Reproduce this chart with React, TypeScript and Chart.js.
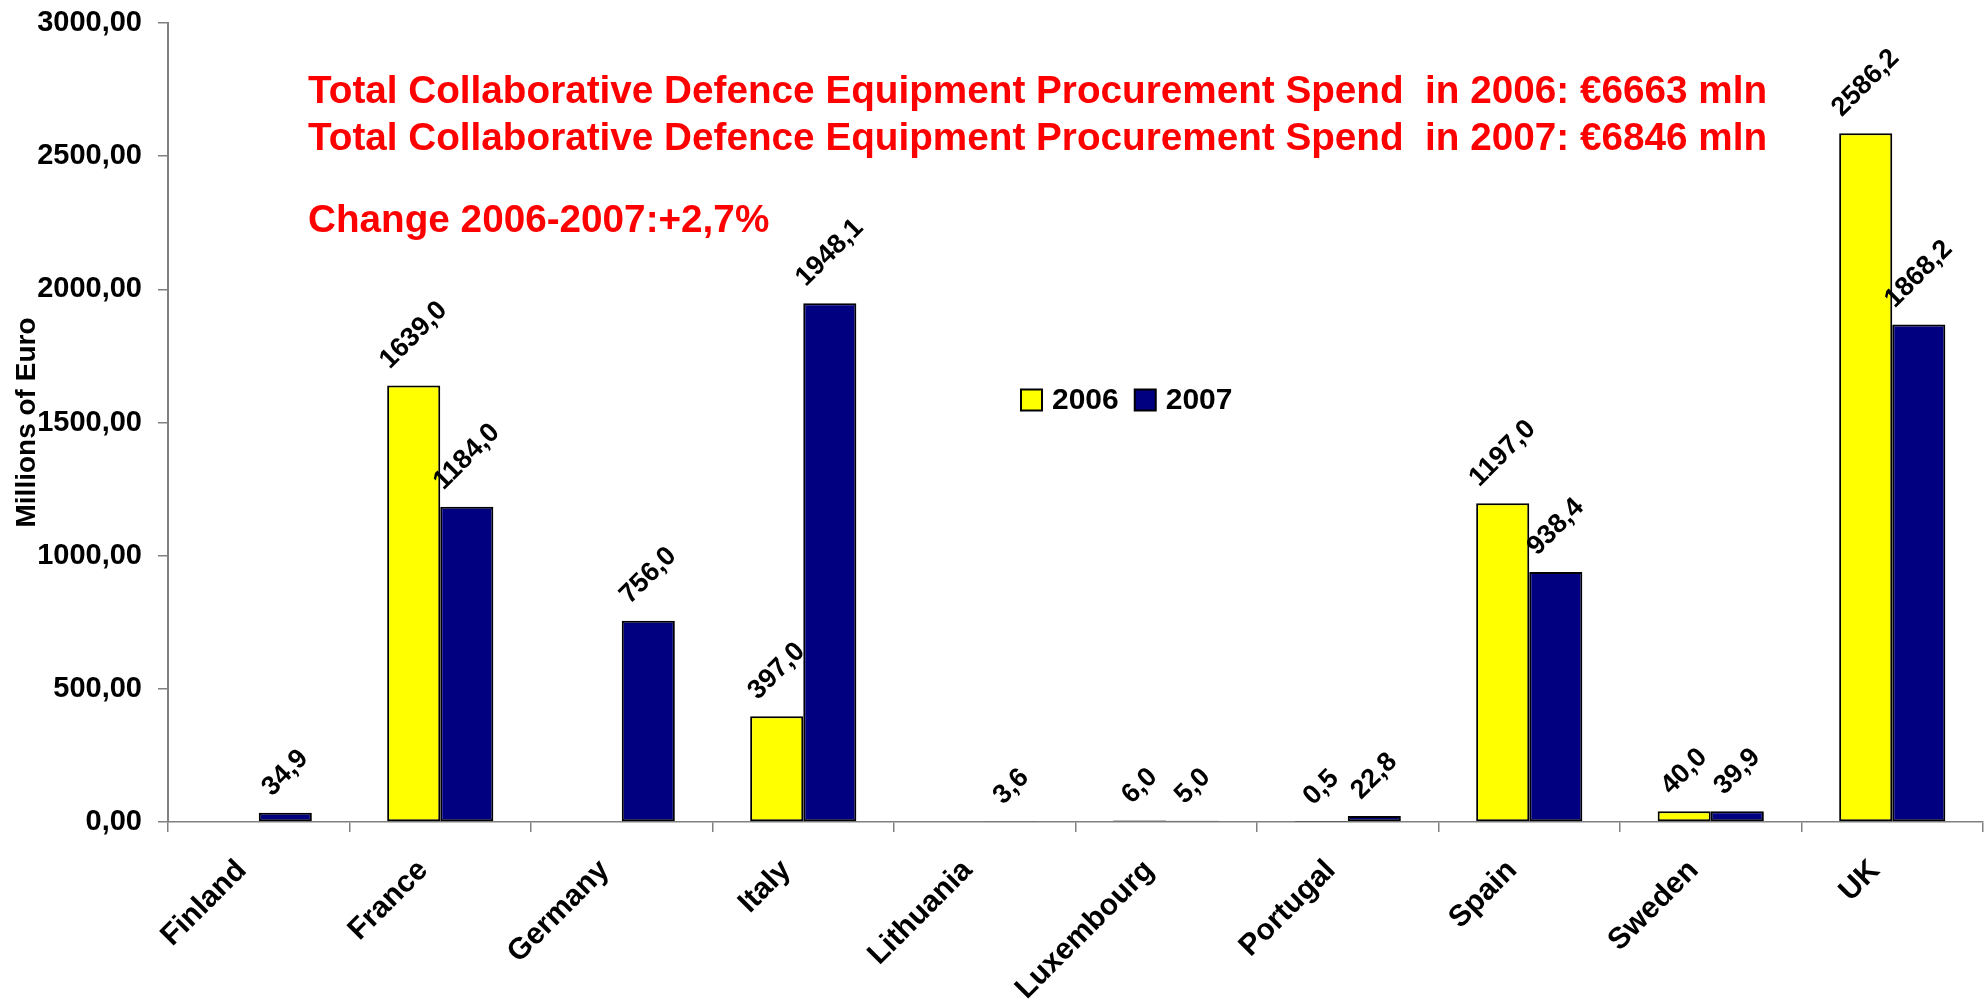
import React, { useEffect, useRef } from 'react';
import { Chart, registerables } from 'chart.js';

Chart.register(...registerables);

const categories = ['Finland', 'France', 'Germany', 'Italy', 'Lithuania', 'Luxembourg', 'Portugal', 'Spain', 'Sweden', 'UK'];
const values2006: (number | null)[] = [null, 1639.0, null, 397.0, null, 6.0, 0.5, 1197.0, 40.0, 2586.2];
const values2007: (number | null)[] = [34.9, 1184.0, 756.0, 1948.1, 3.6, 5.0, 22.8, 938.4, 39.9, 1868.2];
const seriesLabels = ['2006', '2007'];
const seriesColors = ['#FFFF00', '#000080'];
const yTickValues = [0, 500, 1000, 1500, 2000, 2500, 3000];
const yAxisTitle = 'Millions of Euro';
const noteLines = [
  'Total Collaborative Defence Equipment Procurement Spend  in 2006: €6663 mln',
  'Total Collaborative Defence Equipment Procurement Spend  in 2007: €6846 mln',
  'Change 2006-2007:+2,7%',
];

const FONT = '"Liberation Sans", Arial, Helvetica, sans-serif';

const fmtComma = (v: number, d: number) => v.toFixed(d).replace('.', ',');

const barLabelPlugin = {
  id: 'barLabels',
  afterDatasetsDraw(chart: any) {
    const ctx = chart.ctx;
    ctx.save();
    ctx.font = `bold 27px ${FONT}`;
    ctx.fillStyle = '#000';
    chart.data.datasets.forEach((ds: any, i: number) => {
      const meta = chart.getDatasetMeta(i);
      meta.data.forEach((el: any, j: number) => {
        const v = ds.data[j];
        if (v == null) return;
        const text = fmtComma(v, 1);
        const w = ctx.measureText(text).width;
        const h = 20;
        const half = (w + h) / (2 * Math.SQRT2);
        const cx = el.x;
        const cy = el.y - 14 - half;
        ctx.save();
        ctx.translate(cx, cy);
        ctx.rotate(-Math.PI / 4);
        ctx.textAlign = 'center';
        ctx.textBaseline = 'middle';
        ctx.fillText(text, 0, 0);
        ctx.restore();
      });
    });
    ctx.restore();
  },
};

const overlayPlugin = {
  id: 'overlay',
  afterDraw(chart: any) {
    const ctx = chart.ctx;
    ctx.save();
    ctx.fillStyle = '#FF0000';
    ctx.font = `bold 38.7px ${FONT}`;
    ctx.textAlign = 'left';
    ctx.textBaseline = 'alphabetic';
    const baselines = [103, 150, 232];
    noteLines.forEach((t, i) => ctx.fillText(t, 308, baselines[i]));
    // legend
    ctx.font = `bold 30px ${FONT}`;
    ctx.textBaseline = 'middle';
    let x = 1021;
    const y = 400;
    chart.data.datasets.forEach((ds: any) => {
      ctx.fillStyle = ds.backgroundColor;
      ctx.fillRect(x, y - 10.5, 21, 21);
      ctx.strokeStyle = '#000';
      ctx.lineWidth = 2;
      ctx.strokeRect(x, y - 10.5, 21, 21);
      ctx.fillStyle = '#000';
      ctx.fillText(ds.label, x + 31, y + 1);
      x += 31 + ctx.measureText(ds.label).width + 16;
    });
    ctx.restore();
  },
};

export default function App() {
  const ref = useRef<HTMLCanvasElement | null>(null);
  useEffect(() => {
    if (!ref.current) return;
    const common = {
      borderColor: '#000',
      borderWidth: 2,
      borderSkipped: false,
      categoryPercentage: 0.585,
      barPercentage: 1,
    };
    const chart = new Chart(ref.current, {
      type: 'bar',
      data: {
        labels: categories,
        datasets: [
          { label: seriesLabels[0], data: values2006, backgroundColor: seriesColors[0], ...common },
          { label: seriesLabels[1], data: values2007, backgroundColor: seriesColors[1], ...common },
        ],
      } as any,
      options: {
        responsive: false,
        maintainAspectRatio: false,
        animation: false,
        layout: { padding: { top: 23, right: 5, left: 0, bottom: 0 } },
        plugins: {
          legend: { display: false },
          tooltip: { enabled: false },
        },
        scales: {
          x: {
            grid: { display: true, drawOnChartArea: false, color: '#808080', tickLength: 10, lineWidth: 1.5 },
            border: { color: '#808080', width: 1.5 },
            ticks: {
              color: '#000',
              font: { family: FONT, size: 30, weight: 'bold' },
              minRotation: 45,
              maxRotation: 45,
              padding: 21,
              labelOffset: -17,
              autoSkip: false,
            },
            afterFit: (s: any) => {
              s.height = 181;
              s.paddingLeft = 0;
              s.paddingRight = 0;
            },
          },
          y: {
            min: 0,
            max: 3000,
            grid: { display: true, drawOnChartArea: false, color: '#808080', tickLength: 10, lineWidth: 1.5 },
            border: { color: '#808080', width: 2 },
            afterBuildTicks: (s: any) => {
              s.ticks = yTickValues.map((v) => ({ value: v }));
            },
            ticks: {
              color: '#000',
              font: { family: FONT, size: 29, weight: 'bold' },
              padding: 16,
              callback: (v: any) => fmtComma(Number(v), 2),
            },
            title: {
              display: true,
              text: yAxisTitle,
              color: '#000',
              font: { family: FONT, size: 28, weight: 'bold' },
              padding: { top: 10, bottom: 0 },
            },
            afterFit: (s: any) => {
              s.width = 168;
              s.paddingTop = 0;
              s.paddingBottom = 0;
            },
          },
        },
      } as any,
      plugins: [barLabelPlugin, overlayPlugin],
    });
    return () => chart.destroy();
  }, []);
  return (
    <div style={{ position: 'absolute', left: 0, top: 0, width: 1988, height: 1003, background: '#fff' }}>
      <canvas ref={ref} width={1988} height={1003} style={{ width: 1988, height: 1003, display: 'block' }} />
    </div>
  );
}
